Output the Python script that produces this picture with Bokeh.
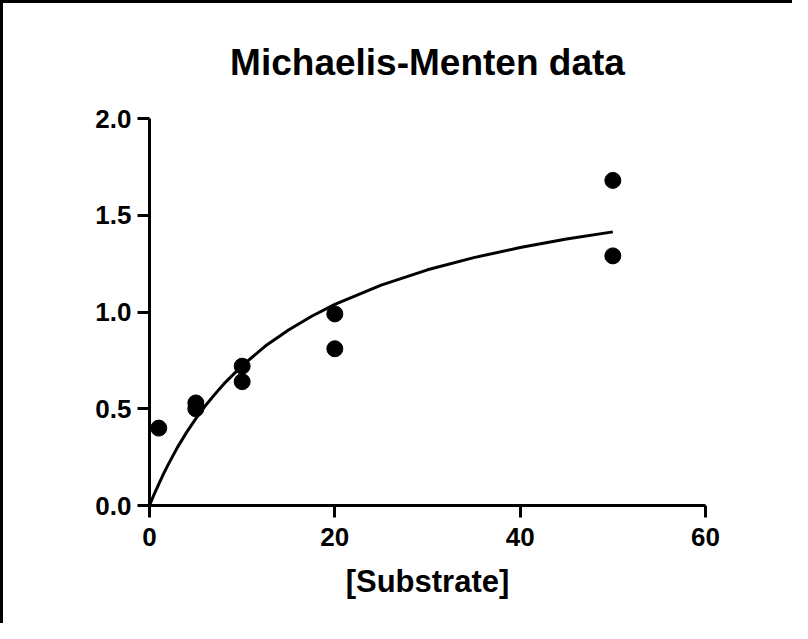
from bokeh.plotting import figure
from bokeh.models import Range1d, FixedTicker
from bokeh.embed import file_html
from bokeh.resources import INLINE

# Data points
substrate = [1, 5, 5, 10, 10, 20, 20, 50, 50]
velocity = [0.40, 0.50, 0.53, 0.72, 0.64, 0.99, 0.81, 1.68, 1.29]

# Fitted curve
curve_x = [0, 0.5, 1, 1.5, 2, 3, 4, 5, 6, 7.5, 8, 10, 12.5, 15, 17.5, 20, 25, 30,
           35, 40, 45, 50]
curve_y = [0, 0.058, 0.111, 0.162, 0.210, 0.299, 0.378, 0.449, 0.514, 0.600,
           0.627, 0.723, 0.824, 0.907, 0.978, 1.039, 1.139, 1.218, 1.281, 1.333,
           1.377, 1.414]

x_ticks = [0, 20, 40, 60]
y_ticks = [0.0, 0.5, 1.0, 1.5, 2.0]
y_tick_labels = {0.0: "0.0", 0.5: "0.5", 1.0: "1.0", 1.5: "1.5", 2.0: "2.0"}

FONT = "Liberation Sans"

p = figure(width=792, height=623, output_backend="svg", toolbar_location=None,
           x_range=Range1d(0, 60), y_range=Range1d(0, 2.0),
           min_border_left=146, min_border_right=90, min_border_top=114,
           min_border_bottom=121)

p.title.text = "Michaelis-Menten data"
p.title.text_font = FONT
p.title.text_font_size = "37px"
p.title.text_font_style = "bold"
p.title.text_color = "black"
p.title.align = "center"
p.title.standoff = 72

p.outline_line_color = None
p.xgrid.visible = False
p.ygrid.visible = False
p.background_fill_color = "white"
p.border_fill_color = "white"
p.styles = {"border-left": "3px solid black", "border-top": "3px solid black"}

for ax in (p.xaxis[0], p.yaxis[0]):
    ax.axis_line_width = 3
    ax.axis_line_color = "black"
    ax.major_tick_line_width = 3
    ax.major_tick_line_color = "black"
    ax.major_tick_out = 12
    ax.major_tick_in = 0
    ax.minor_tick_line_color = None
    ax.major_label_text_font = FONT
    ax.major_label_text_font_size = "26px"
    ax.major_label_text_font_style = "bold"
    ax.major_label_text_color = "black"

p.xaxis[0].ticker = FixedTicker(ticks=x_ticks)
p.yaxis[0].ticker = FixedTicker(ticks=y_ticks)
p.yaxis[0].major_label_overrides = y_tick_labels
p.xaxis[0].major_label_standoff = 10
p.yaxis[0].major_label_standoff = 6

p.xaxis[0].axis_label = "[Substrate]"
p.xaxis[0].axis_label_text_font = FONT
p.xaxis[0].axis_label_text_font_size = "31px"
p.xaxis[0].axis_label_text_font_style = "bold"
p.xaxis[0].axis_label_text_color = "black"
p.xaxis[0].axis_label_standoff = 15

p.line(curve_x, curve_y, line_width=3, line_color="black")
p.scatter(substrate, velocity, size=16, fill_color="black", line_color="black")

open("out.html", "w").write(file_html(p, INLINE))
